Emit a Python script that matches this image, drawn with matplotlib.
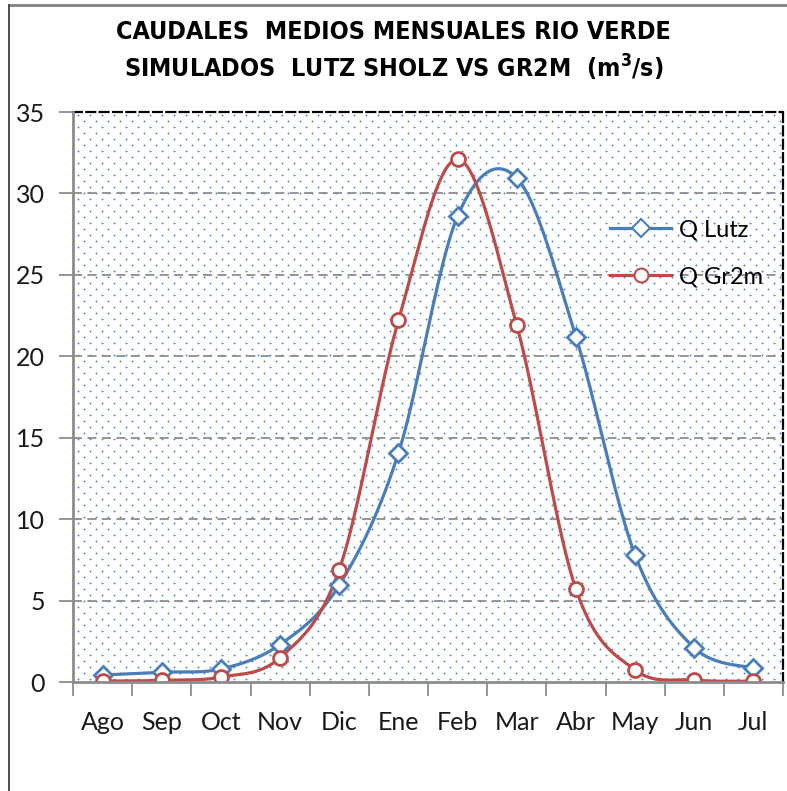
import numpy as np
import matplotlib
matplotlib.use("Agg")
import matplotlib.pyplot as plt
from matplotlib.lines import Line2D
from matplotlib import font_manager as fm

months = ["Ago", "Sep", "Oct", "Nov", "Dic", "Ene", "Feb", "Mar", "Abr", "May", "Jun", "Jul"]
q_lutz = [0.43, 0.6, 0.8, 2.3, 5.95, 14.05, 28.6, 30.95, 21.2, 7.8, 2.1, 0.85]
q_gr2m = [0.06, 0.1, 0.3, 1.5, 6.9, 22.2, 32.1, 21.9, 5.7, 0.74, 0.12, 0.05]
yticks = [0, 5, 10, 15, 20, 25, 30, 35]

names = {f.name for f in fm.fontManager.ttflist}
tick_font = "Lato" if "Lato" in names else "DejaVu Sans"

def smooth(y, n=40):
    """Excel-like smoothed line (Catmull-Rom cubic Bezier)."""
    x = np.arange(len(y), dtype=float)
    y = np.asarray(y, dtype=float)
    P = np.column_stack([x, y])
    pts = []
    for i in range(len(P) - 1):
        p0 = P[i - 1] if i > 0 else P[i]
        p1 = P[i]
        p2 = P[i + 1]
        p3 = P[i + 2] if i + 2 < len(P) else P[i + 1]
        c1 = p1 + (p2 - p0) / 6.0
        c2 = p2 - (p3 - p1) / 6.0
        t = np.linspace(0, 1, n)[:, None]
        seg = (1 - t) ** 3 * p1 + 3 * (1 - t) ** 2 * t * c1 + 3 * (1 - t) * t ** 2 * c2 + t ** 3 * p2
        pts.append(seg if i == 0 else seg[1:])
    pts = np.vstack(pts)
    return pts[:, 0], pts[:, 1]

W, H = 787, 791
fig = plt.figure(figsize=(W / 100, H / 100), dpi=100)
fig.patch.set_facecolor("white")

L, R, T, B = 73, 783, 112, 682
ax = fig.add_axes([L / W, 1 - B / H, (R - L) / W, (B - T) / H])

# dotted background pattern
pw, ph = R - L, B - T
img = np.ones((ph, pw, 3))
core = np.array([0.36, 0.55, 0.86])
halo = 0.5 * core + 0.5
for r in range(3, ph - 1, 6):
    off = 5 if (r // 6) % 2 == 0 else 11
    for c in range(off, pw - 1, 12):
        for dr, dc in ((0, 1), (1, 0), (-1, 0), (0, -1)):
            img[r + dr, c + dc] = halo
        img[r, c] = core
ax.imshow(img, extent=(-0.5, 11.5, 0, 35), aspect="auto", interpolation="nearest", zorder=0)

blue = "#4A7EBB"
red = "#BE4B48"
x = np.arange(len(months))

xs, ys = smooth(q_lutz)
ax.plot(xs, ys, color=blue, lw=2.3, zorder=3, solid_capstyle="round")
ax.plot(x, q_lutz, ls="none", marker="D", ms=9, mfc="white", mec=blue, mew=2, zorder=4)
xs, ys = smooth(q_gr2m)
ax.plot(xs, ys, color=red, lw=2.3, zorder=3, solid_capstyle="round")
ax.plot(x, q_gr2m, ls="none", marker="o", ms=10, mfc="white", mec=red, mew=2, zorder=4)

ax.set_xlim(-0.5, 11.5)
ax.set_ylim(0, 35)

for v in yticks[1:-1]:
    ax.axhline(v, color="#8c8c8c", lw=1.3, ls=(0, (5, 3)), zorder=1)

ax.set_yticks(yticks)
ax.set_yticklabels([str(v) for v in yticks], fontsize=18, family=tick_font, color="#1a1a1a")
ax.tick_params(axis="y", length=10, width=1.3, color="#8c8c8c", pad=10, direction="out")

ax.set_xticks(np.arange(-0.5, 12, 1.0))
ax.set_xticklabels([])
ax.tick_params(axis="x", which="major", length=10, width=1.3, color="#8c8c8c", direction="out")
ax.set_xticks(x, minor=True)
ax.set_xticklabels(months, minor=True, fontsize=18, family=tick_font, color="#1a1a1a")
ax.tick_params(axis="x", which="minor", length=0, pad=21)

for s in ["left", "bottom"]:
    ax.spines[s].set_color("#8c8c8c")
    ax.spines[s].set_linewidth(2)
    ax.spines[s].set_zorder(5)
for s in ["top", "right"]:
    ax.spines[s].set_color("black")
    ax.spines[s].set_linewidth(1.6)
    ax.spines[s].set_linestyle((0, (4, 2)))

# legend
handles = [
    Line2D([], [], color=blue, lw=2.3, marker="D", ms=9, mfc="white", mec=blue, mew=1.5),
    Line2D([], [], color=red, lw=2.3, marker="o", ms=10, mfc="white", mec=red, mew=1.5),
]
leg = ax.legend(handles, ["Q Lutz", "Q Gr2m"], loc="upper left", bbox_to_anchor=(0.757, 0.812),
                frameon=False, prop={"family": tick_font, "size": 17}, handlelength=2.55,
                handletextpad=0.35, labelspacing=1.1, borderpad=0, borderaxespad=0)

title_kw = dict(ha="center", va="center", fontsize=18, fontweight="bold",
                family="DejaVu Sans", fontstretch="condensed")
fig.text(0.5, 1 - 32 / H, "CAUDALES  MEDIOS MENSUALES RIO VERDE", **title_kw)
fig.text(0.5, 1 - 68 / H, "SIMULADOS  LUTZ SHOLZ VS GR2M  (m$^\\mathregular{3}$/s)", **title_kw)

# chart area border
fig.add_artist(Line2D([9 / W, 1], [1 - 5 / H, 1 - 5 / H], color="#7f7f7f", lw=2, transform=fig.transFigure))
fig.add_artist(Line2D([9 / W, 9 / W], [1 - 5 / H, 0], color="#404040", lw=1.3, transform=fig.transFigure))

fig.savefig("out.png", dpi=100, facecolor="white")
